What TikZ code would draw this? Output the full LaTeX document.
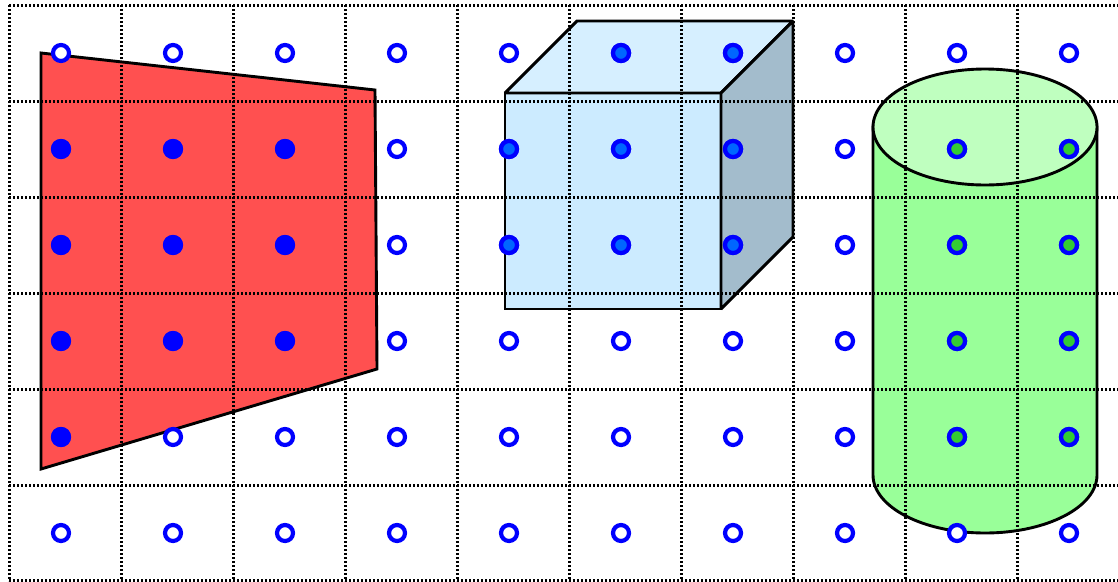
\documentclass[tikz,border=0pt]{standalone}
\definecolor{redfill}{HTML}{FF5050}
\definecolor{cubefront}{HTML}{CCEBFF}
\definecolor{cubetop}{HTML}{D6EFFF}
\definecolor{cubeside}{HTML}{A3BCCC}
\definecolor{cylbody}{HTML}{99FF99}
\definecolor{cyltop}{HTML}{BFFFBF}
\definecolor{dotblue}{HTML}{0000FF}
\definecolor{dotcube}{HTML}{0066FF}
\definecolor{dotcyl}{HTML}{33CC33}
\tikzset{
  outline/.style={draw=black,line width=2.9pt,line join=miter,miter limit=2},
  gridline/.style={draw=black,line width=3pt,dash pattern=on 2.2pt off 1.8pt},
  ringdot/.style={draw=dotblue,line width=4.2pt},
}
\begin{document}
\begin{tikzpicture}[x=1pt,y=-1pt]
\useasboundingbox[fill=white] (0,0) rectangle (1118,581);
% shapes
\path[outline,fill=redfill] (41,53) -- (375,90) -- (377,369) -- (41,469) -- cycle;
\path[outline,fill=cubefront] (505,93) rectangle (721,309);
\path[outline,fill=cubetop] (505,93) -- (577,21) -- (793,21) -- (721,93) -- cycle;
\path[outline,fill=cubeside] (721,93) -- (793,21) -- (793,237) -- (721,309) -- cycle;
\path[outline,fill=cylbody] (873,127) -- (873,475) arc[x radius=112,y radius=58,start angle=180,end angle=0] -- (1097,127) -- cycle;
\path[outline,fill=cyltop] (985,127) ellipse[x radius=112,y radius=58];
% grid
\foreach \gy in {5,101,197,293,389,485,580}
  \path[gridline] (9,\gy) -- (1118,\gy);
\foreach \gx in {9,121,233,345,457,569,681,793,905,1017}
  \path[gridline] (\gx,5) -- (\gx,581);
% open dots everywhere
\foreach \dx in {61,173,285,397,509,621,733,845,957,1069}
  \foreach \dy in {53,149,245,341,437,533}
    \path[ringdot,fill=white] (\dx,\dy) circle[radius=8];
% dots inside the polygon
\foreach \dx/\dy in {61/149,173/149,285/149,61/245,173/245,285/245,61/341,173/341,285/341,61/437}
  \path[fill=dotblue] (\dx,\dy) circle[radius=10];
% dots inside the cube
\foreach \dx/\dy in {621/53,733/53,509/149,621/149,733/149,509/245,621/245,733/245}
  \path[ringdot,fill=dotcube] (\dx,\dy) circle[radius=8];
% dots inside the cylinder
\foreach \dx in {957,1069}
  \foreach \dy in {149,245,341,437}
    \path[ringdot,fill=dotcyl] (\dx,\dy) circle[radius=8];
\end{tikzpicture}
\end{document}
